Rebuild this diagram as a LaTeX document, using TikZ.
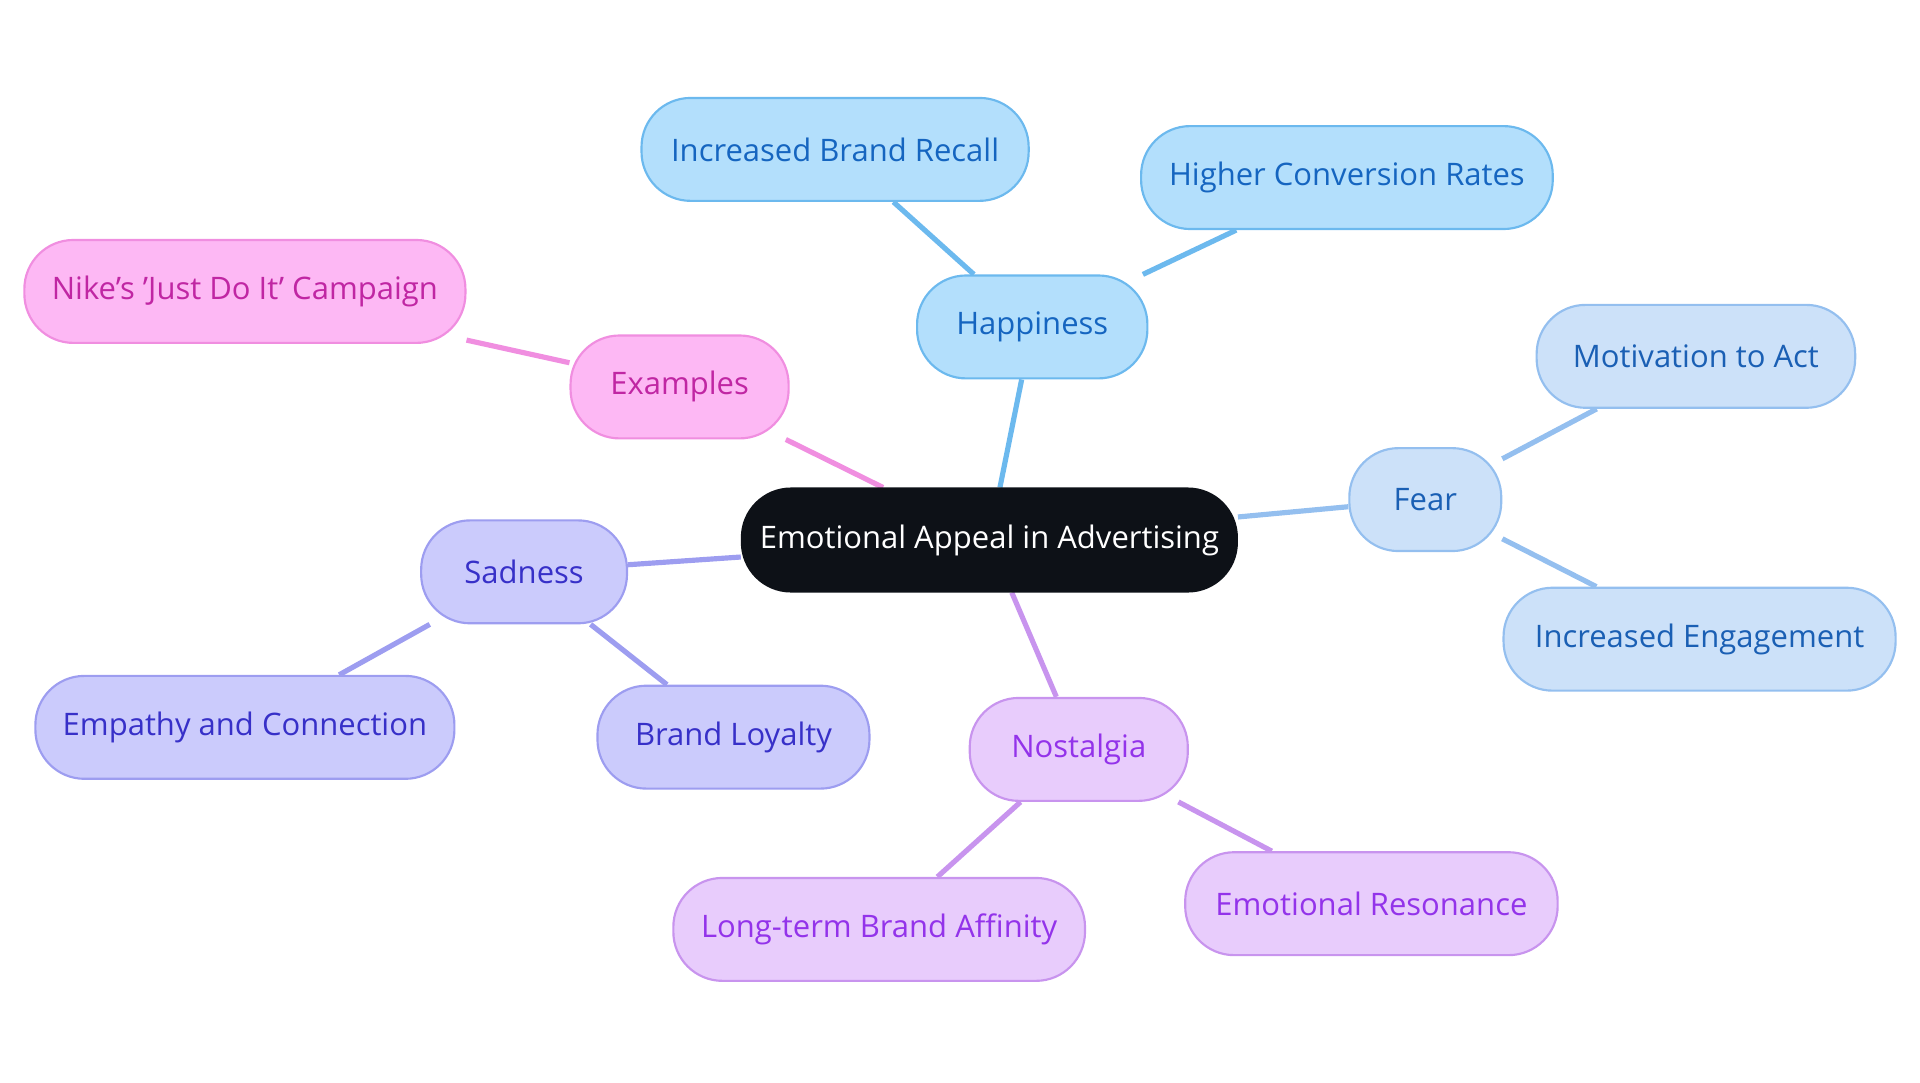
\documentclass[tikz,border=0pt]{standalone}
\usepackage{fontspec}
\setmainfont{Open Sans}
\usetikzlibrary{backgrounds}
\definecolor{rootbg}{HTML}{0D1117}
\definecolor{hapbg}{HTML}{B3DFFC}\definecolor{hapln}{HTML}{6CB9EE}\definecolor{haptx}{HTML}{1565C0}
\definecolor{fearbg}{HTML}{CCE1F9}\definecolor{fearln}{HTML}{94BFEF}\definecolor{feartx}{HTML}{1A5FB4}
\definecolor{nosbg}{HTML}{E8CCFC}\definecolor{nosln}{HTML}{C894EE}\definecolor{nostx}{HTML}{9333EA}
\definecolor{sadbg}{HTML}{CBCBFC}\definecolor{sadln}{HTML}{9D9DF0}\definecolor{sadtx}{HTML}{3730C8}
\definecolor{exbg}{HTML}{FDB8F4}\definecolor{exln}{HTML}{F08EE0}\definecolor{extx}{HTML}{C026A3}
\tikzset{
  pill/.style={rounded corners=0.4cm, minimum height=0.84cm, inner xsep=0pt, font=\fontsize{7.2}{8}\selectfont, line width=0.5pt},
  hap/.style={pill, fill=hapbg, draw=hapln, text=haptx},
  fear/.style={pill, fill=fearbg, draw=fearln, text=feartx},
  nos/.style={pill, fill=nosbg, draw=nosln, text=nostx},
  sad/.style={pill, fill=sadbg, draw=sadln, text=sadtx},
  ex/.style={pill, fill=exbg, draw=exln, text=extx},
  link/.style={line width=1.2pt}
}
\begin{document}
\begin{tikzpicture}[x=0.01cm, y=-0.01cm]
    \useasboundingbox (0,0) rectangle (1568,884);

    % Centre
    \node [pill, fill=rootbg, draw=rootbg, text=white, minimum width=4.04cm] (root) at (808,441) {Emotional Appeal in Advertising};

    % Happiness
    \node [hap, minimum width=1.88cm] (happy) at (843,267) {Happiness};
    \node [hap, minimum width=3.16cm] (recall) at (682,122) {Increased Brand Recall};
    \node [hap, minimum width=3.36cm] (conv) at (1100,145) {Higher Conversion Rates};

    % Fear
    \node [fear, minimum width=1.24cm] (fear) at (1164,408) {Fear};
    \node [fear, minimum width=2.60cm] (motiv) at (1385,291) {Motivation to Act};
    \node [fear, minimum width=3.20cm] (engage) at (1388,522) {Increased Engagement};

    % Nostalgia
    \node [nos, minimum width=1.78cm] (nostalgia) at (881,612) {Nostalgia};
    \node [nos, minimum width=3.04cm] (reson) at (1120,738) {Emotional Resonance};
    \node [nos, minimum width=3.36cm] (affinity) at (718,759) {Long-term Brand Affinity};

    % Sadness
    \node [sad, minimum width=1.68cm] (sad) at (428,467) {Sadness};
    \node [sad, minimum width=3.42cm] (empathy) at (200,594) {Empathy and Connection};
    \node [sad, minimum width=2.22cm] (loyal) at (599,602) {Brand Loyalty};

    % Examples
    \node [ex, minimum width=1.78cm] (examples) at (555,316) {Examples};
    \node [ex, minimum width=3.60cm] (nike) at (200,238) {Nike's 'Just Do It' Campaign};

    \begin{scope}[on background layer]
        \draw [link, hapln] (root) -- (happy) (happy) -- (recall) (happy) -- (conv);
        \draw [link, fearln] (root) -- (fear) (fear) -- (motiv) (fear) -- (engage);
        \draw [link, nosln] (root) -- (nostalgia) (nostalgia) -- (reson) (nostalgia) -- (affinity);
        \draw [link, sadln] (root) -- (sad) (sad) -- (empathy) (sad) -- (loyal);
        \draw [link, exln] (root) -- (examples) (examples) -- (nike);
    \end{scope}
\end{tikzpicture}
\end{document}
